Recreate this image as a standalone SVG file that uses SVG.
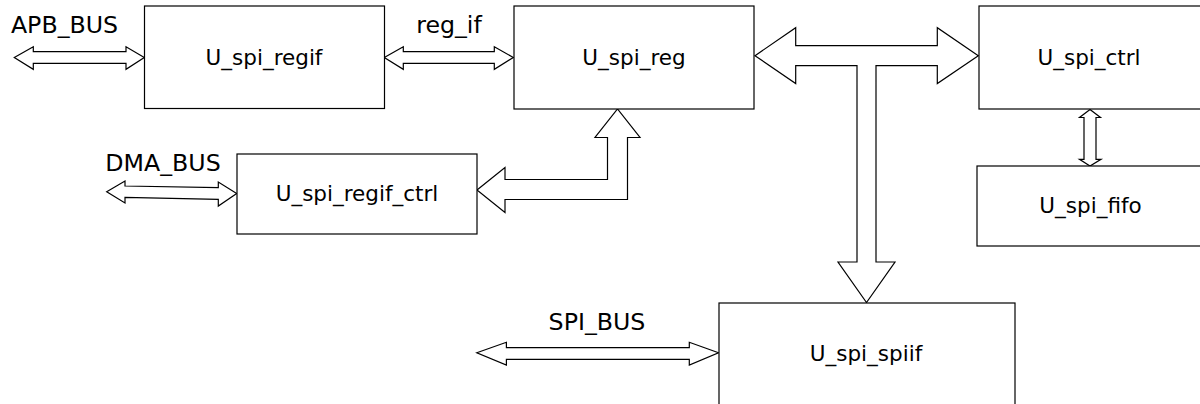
<svg xmlns="http://www.w3.org/2000/svg" width="1200" height="404" viewBox="0 0 1200 404">
<style>
.box{fill:#fff;stroke:#000;stroke-width:1.2}
.arr{fill:#fff;stroke:#000;stroke-width:1.2;stroke-linejoin:miter}
.nt{font-family:"DejaVu Sans",sans-serif;font-size:21.5px;fill:#000;text-anchor:middle}
.lt{font-family:"DejaVu Sans",sans-serif;font-size:23.7px;fill:#000;text-anchor:middle}
</style>
<rect width="1200" height="404" fill="#fff"/>
<g id="connectors">
<polygon class="arr" points="14.3,57.5 33.3,46.7 33.3,51.7 126,51.7 126,46.7 144.3,57.5 126,69.3 126,63.3 33.3,63.3 33.3,69.3"/>
<polygon class="arr" points="384.3,57.5 403.3,46.7 403.3,51.7 494.3,51.7 494.3,46.7 513.3,57.5 494.3,69.3 494.3,63.3 403.3,63.3 403.3,69.3"/>
<polygon class="arr" points="755,55.7 795.7,27.7 795.7,45.7 937.3,45.7 937.3,27.7 978.3,55.7 937.3,83.5 937.3,65.7 876,65.7 876,262 895,262 866.5,302.5 838,262 857,262 857,65.7 795.7,65.7 795.7,83.5"/>
<polygon class="arr" points="477,190 505,167.5 505,179.5 607.5,179.5 607.5,137.5 595,137.5 617.5,109 640,137.5 627.5,137.5 627.5,199.5 505,199.5 505,212.5"/>
<polygon class="arr" points="1090,109.5 1100.5,117.5 1096,117.5 1096,159.3 1101,159.3 1090,166 1079.5,159.3 1084,159.3 1084,117.5 1079.5,117.5"/>
<polygon class="arr" points="106.7,191.7 125,181 125,186 218.3,187.7 218.3,182 236.7,193.5 218.3,206 218.3,199.3 125,197.3 125,203"/>
<polygon class="arr" points="476.8,352.7 506.4,342.3 506.4,347.7 689.3,347.7 689.3,342.3 718.5,352.7 689.3,365 689.3,359.3 506.4,359.3 506.4,365"/>
</g>
<g id="labels">
<text class="lt" x="64.5" y="33.3">APB_BUS</text>
<text class="lt" x="449" y="33.3">reg_if</text>
<text class="lt" x="163" y="171">DMA_BUS</text>
<text class="lt" x="597" y="330">SPI_BUS</text>
</g>
<g id="U_spi_regif"><rect class="box" x="144.5" y="6" width="240" height="102.5"/><text class="nt" x="264" y="65">U_spi_regif</text></g>
<g id="U_spi_reg"><rect class="box" x="514" y="6" width="240" height="103"/><text class="nt" x="634" y="65">U_spi_reg</text></g>
<g id="U_spi_ctrl"><rect class="box" x="979" y="6" width="240" height="103"/><text class="nt" x="1089" y="65">U_spi_ctrl</text></g>
<g id="U_spi_fifo"><rect class="box" x="977" y="166" width="240" height="80"/><text class="nt" x="1090.5" y="213">U_spi_fifo</text></g>
<g id="U_spi_regif_ctrl"><rect class="box" x="237" y="154" width="240" height="80"/><text class="nt" x="357" y="201">U_spi_regif_ctrl</text></g>
<g id="U_spi_spiif"><rect class="box" x="719" y="303" width="296" height="130"/><text class="nt" x="866" y="361">U_spi_spiif</text></g>
</svg>
